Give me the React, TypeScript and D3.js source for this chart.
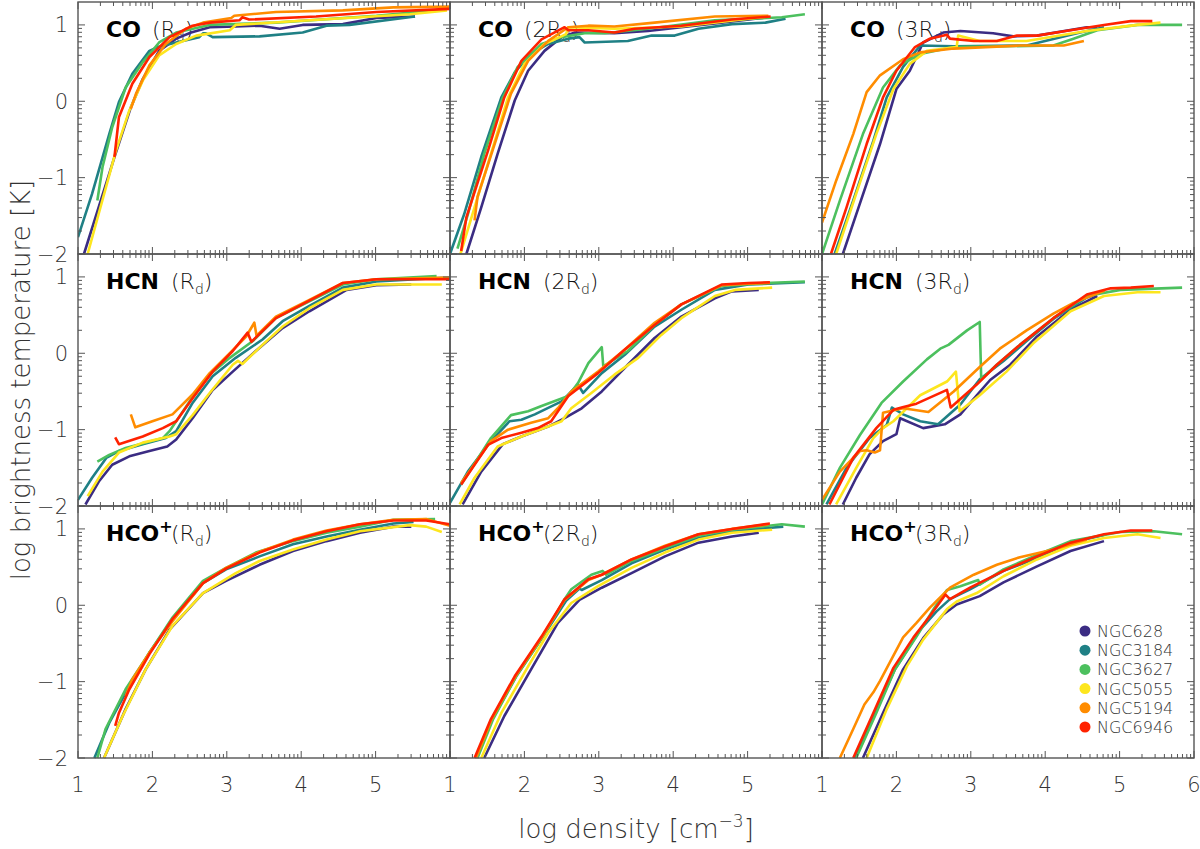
import * as d3 from "d3";

// ── Data (log density, log T_b) ─────────────────────────────

type Pt = [number, number];

const GALAXIES = ["NGC628", "NGC3184", "NGC3627", "NGC5055", "NGC5194", "NGC6946"];
const COLORS = ["#3b2c83", "#1f8085", "#4cc05e", "#fde61e", "#ff8c00", "#ff2200"];

const X_TICKS = [1, 2, 3, 4, 5, 6];
const Y_TICKS = [-2, -1, 0, 1];

// series order follows GALAXIES
const CO_1: Pt[][] = [
  [[1.08,-2.0],[1.49,-0.73],[1.71,-0.08],[1.87,0.29],[2.09,0.66],[2.32,0.82],[2.52,0.90],[2.77,0.97],[3.12,0.98],[3.44,0.99],[3.71,0.95],[4.02,1.0],[4.56,1.01],[5.01,1.09],[5.53,1.11]],
  [[1.0,-1.78],[1.19,-1.21],[1.42,-0.43],[1.55,-0.01],[1.73,0.36],[1.96,0.66],[2.07,0.71],[2.32,0.77],[2.63,0.84],[2.68,0.89],[2.72,0.89],[2.81,0.84],[3.44,0.85],[4.02,0.90],[4.34,0.99],[4.65,1.0],[5.53,1.11]],
  [[1.26,-1.30],[1.33,-0.86],[1.46,-0.34],[1.64,0.18],[1.87,0.51],[2.09,0.77],[2.32,0.90],[2.59,0.96],[2.77,1.0],[3.66,1.03],[5.01,1.12],[5.91,1.20]],
  [[1.13,-2.0],[1.51,-0.65],[1.69,-0.12],[1.87,0.27],[2.09,0.60],[2.32,0.75],[2.59,0.86],[3.04,0.93],[3.12,1.0],[4.11,1.06],[5.46,1.14],[5.96,1.19]],
  [[1.71,-0.10],[1.78,0.10],[1.96,0.47],[2.18,0.75],[2.45,0.95],[2.68,1.03],[3.06,1.09],[3.10,1.12],[3.66,1.17],[4.56,1.19],[5.24,1.23],[6.0,1.24]],
  [[1.49,-0.73],[1.55,-0.21],[1.73,0.23],[1.96,0.58],[2.23,0.84],[2.54,0.99],[2.77,1.03],[3.17,1.06],[3.21,1.10],[3.30,1.07],[4.20,1.11],[5.01,1.17],[6.0,1.21]],
];

const CO_2: Pt[][] = [
  [[1.22,-2.0],[1.42,-1.39],[1.64,-0.69],[1.87,0.01],[2.05,0.40],[2.27,0.66],[2.50,0.84],[2.68,0.90],[3.21,0.89],[3.66,0.92],[4.56,1.02],[5.28,1.10]],
  [[1.0,-2.0],[1.19,-1.48],[1.42,-0.73],[1.69,0.05],[1.87,0.38],[2.09,0.62],[2.32,0.75],[2.59,0.82],[2.74,0.84],[2.81,0.77],[3.39,0.79],[3.71,0.86],[4.02,0.86],[4.34,0.95],[4.79,1.01],[5.24,1.03],[5.51,1.08]],
  [[1.10,-1.93],[1.24,-1.48],[1.46,-0.69],[1.71,0.05],[1.91,0.45],[2.23,0.75],[2.50,0.84],[2.81,0.89],[3.08,0.89],[3.66,0.95],[4.56,1.06],[5.46,1.10],[5.77,1.14]],
  [[1.14,-2.0],[1.33,-1.39],[1.55,-0.69],[1.78,0.05],[2.0,0.49],[2.27,0.75],[2.56,0.88],[2.59,0.97],[3.21,0.95],[4.11,0.98],[5.01,1.08],[5.28,1.11]],
  [[1.33,-1.56],[1.37,-1.25],[1.60,-0.56],[1.82,0.10],[2.05,0.53],[2.32,0.79],[2.59,0.97],[2.86,0.99],[3.21,0.98],[3.75,1.03],[4.56,1.11],[5.28,1.12]],
  [[1.15,-1.96],[1.22,-1.52],[1.51,-0.65],[1.73,0.05],[1.96,0.53],[2.23,0.81],[2.54,0.97],[2.59,0.93],[2.86,0.93],[3.21,0.90],[3.48,0.95],[4.11,0.99],[4.79,1.07],[5.31,1.11]],
];

const CO_3: Pt[][] = [
  [[1.28,-2.0],[1.46,-1.48],[1.78,-0.56],[2.0,0.16],[2.18,0.40],[2.36,0.77],[2.63,0.90],[2.86,0.92],[3.30,0.89],[3.57,0.85],[3.89,0.86],[4.56,0.97],[4.70,0.97]],
  [[1.17,-2.0],[1.42,-1.30],[1.69,-0.52],[1.87,0.05],[2.09,0.45],[2.32,0.73],[2.77,0.72],[3.75,0.73],[4.47,0.90],[4.79,0.97]],
  [[1.0,-2.0],[1.24,-1.30],[1.55,-0.43],[1.82,0.18],[2.05,0.47],[2.32,0.62],[2.77,0.71],[4.11,0.73],[4.38,0.82],[4.70,0.93],[5.24,1.0],[5.84,1.0]],
  [[1.19,-2.0],[1.46,-1.21],[1.73,-0.43],[1.96,0.16],[2.18,0.49],[2.41,0.66],[2.81,0.71],[2.83,0.86],[3.12,0.79],[3.75,0.79],[4.56,0.92],[5.24,1.0],[5.55,1.03]],
  [[1.0,-1.59],[1.19,-1.04],[1.42,-0.43],[1.60,0.12],[1.78,0.34],[2.09,0.55],[2.32,0.64],[2.77,0.69],[3.66,0.73],[4.25,0.73],[4.52,0.79]],
  [[1.12,-2.0],[1.33,-1.39],[1.60,-0.56],[1.82,0.05],[2.0,0.40],[2.25,0.71],[2.45,0.82],[2.68,0.87],[2.72,0.82],[3.04,0.79],[3.35,0.79],[3.62,0.86],[3.89,0.86],[4.34,0.93],[4.79,1.0],[5.15,1.05],[5.44,1.05]],
];

const HCN_1: Pt[][] = [
  [[1.10,-1.98],[1.28,-1.68],[1.46,-1.46],[1.69,-1.35],[1.96,-1.28],[2.20,-1.22],[2.32,-1.13],[2.54,-0.85],[2.81,-0.48],[3.08,-0.24],[3.39,0.03],[3.75,0.33],[4.11,0.55],[4.61,0.83],[5.01,0.89],[5.48,0.90]],
  [[1.0,-1.92],[1.19,-1.63],[1.38,-1.37],[1.55,-1.28],[1.87,-1.19],[2.18,-1.11],[2.32,-1.02],[2.54,-0.65],[2.81,-0.30],[3.12,-0.06],[3.48,0.18],[3.75,0.42],[4.11,0.62],[4.56,0.86],[5.01,0.94],[5.91,0.99]],
  [[1.26,-1.42],[1.42,-1.33],[1.64,-1.24],[1.87,-1.18],[2.14,-1.11],[2.23,-1.02],[2.50,-0.63],[2.77,-0.28],[3.04,-0.06],[3.35,0.16],[3.66,0.46],[4.11,0.68],[4.56,0.90],[5.01,0.97],[5.82,1.01]],
  [[1.13,-1.87],[1.33,-1.55],[1.55,-1.30],[1.87,-1.17],[2.23,-1.09],[2.32,-1.06],[2.54,-0.81],[2.77,-0.52],[3.08,-0.15],[3.15,-0.10],[3.21,-0.14],[3.48,0.11],[3.75,0.35],[4.11,0.59],[4.56,0.83],[5.01,0.90],[5.89,0.90]],
  [[1.71,-0.80],[1.77,-0.97],[2.0,-0.89],[2.27,-0.80],[2.54,-0.54],[2.77,-0.26],[3.04,0.0],[3.26,0.22],[3.37,0.40],[3.40,0.23],[3.66,0.48],[4.11,0.70],[4.56,0.92],[5.01,0.97],[6.0,0.99]],
  [[1.50,-1.10],[1.55,-1.19],[1.87,-1.09],[2.14,-0.98],[2.32,-0.89],[2.54,-0.59],[2.81,-0.24],[3.08,0.03],[3.28,0.27],[3.33,0.15],[3.66,0.46],[4.11,0.69],[4.56,0.92],[5.01,0.97],[6.0,0.97]],
];

const HCN_2: Pt[][] = [
  [[1.17,-1.98],[1.42,-1.55],[1.71,-1.19],[1.96,-1.09],[2.32,-0.96],[2.54,-0.85],[2.77,-0.72],[3.04,-0.50],[3.39,-0.15],[3.75,0.20],[4.11,0.48],[4.56,0.72],[4.79,0.81],[5.15,0.83]],
  [[1.0,-1.96],[1.24,-1.55],[1.55,-1.15],[1.80,-0.89],[1.96,-0.87],[2.14,-0.80],[2.50,-0.63],[2.72,-0.41],[2.79,-0.52],[3.04,-0.26],[3.35,-0.02],[3.75,0.35],[4.11,0.57],[4.56,0.83],[5.01,0.90],[5.77,0.93]],
  [[1.15,-1.72],[1.55,-1.11],[1.82,-0.81],[2.05,-0.76],[2.23,-0.69],[2.59,-0.56],[2.72,-0.39],[2.86,-0.13],[3.04,0.08],[3.06,-0.17],[3.39,0.03],[3.75,0.37],[4.11,0.64],[4.65,0.88],[5.24,0.92],[5.77,0.94]],
  [[1.13,-1.98],[1.33,-1.63],[1.64,-1.22],[1.96,-1.09],[2.32,-0.96],[2.50,-0.89],[2.63,-0.72],[2.90,-0.52],[3.21,-0.28],[3.53,-0.06],[3.84,0.24],[4.11,0.46],[4.56,0.75],[4.83,0.83],[5.33,0.86]],
  [[1.15,-1.70],[1.55,-1.15],[1.78,-1.00],[2.09,-0.91],[2.32,-0.85],[2.45,-0.72],[2.63,-0.50],[2.99,-0.24],[3.35,0.05],[3.75,0.40],[4.11,0.64],[4.65,0.89],[5.01,0.91],[5.30,0.92]],
  [[1.15,-1.72],[1.51,-1.20],[1.69,-1.11],[1.96,-1.04],[2.18,-0.98],[2.36,-0.89],[2.59,-0.56],[2.99,-0.26],[3.35,0.05],[3.75,0.37],[4.11,0.64],[4.65,0.90],[5.01,0.92],[5.30,0.93]],
];

const HCN_3: Pt[][] = [
  [[1.28,-1.98],[1.46,-1.63],[1.64,-1.32],[1.82,-1.15],[2.0,-1.06],[2.05,-0.85],[2.36,-0.98],[2.65,-0.93],[2.86,-0.80],[3.08,-0.55],[3.26,-0.35],[3.53,-0.15],[3.89,0.22],[4.34,0.57],[4.70,0.75]],
  [[1.06,-1.98],[1.33,-1.50],[1.64,-1.11],[1.87,-0.94],[1.94,-0.71],[2.09,-0.80],[2.32,-0.89],[2.56,-0.93],[2.86,-0.67],[3.12,-0.34],[3.44,-0.10],[3.75,0.16],[4.11,0.45],[4.56,0.73],[4.79,0.81]],
  [[1.0,-1.98],[1.24,-1.50],[1.51,-1.07],[1.80,-0.65],[2.09,-0.37],[2.41,-0.08],[2.59,0.06],[2.70,0.11],[2.95,0.30],[3.12,0.41],[3.14,-0.34],[3.35,-0.15],[3.66,0.11],[4.11,0.46],[4.56,0.75],[5.01,0.83],[5.84,0.86]],
  [[1.19,-1.98],[1.46,-1.50],[1.69,-1.11],[1.82,-0.98],[1.96,-0.89],[2.14,-0.72],[2.32,-0.55],[2.68,-0.37],[2.80,-0.24],[2.85,-0.76],[3.12,-0.55],[3.48,-0.24],[3.84,0.13],[4.34,0.55],[4.79,0.75],[5.24,0.80],[5.55,0.80]],
  [[1.0,-1.92],[1.24,-1.55],[1.51,-1.28],[1.60,-1.27],[1.71,-1.30],[1.78,-1.27],[1.82,-0.78],[2.09,-0.72],[2.43,-0.77],[2.77,-0.50],[3.12,-0.18],[3.39,0.06],[3.75,0.30],[4.11,0.52],[4.38,0.66],[4.80,0.82]],
  [[1.10,-1.98],[1.42,-1.37],[1.73,-0.98],[1.96,-0.74],[2.07,-0.71],[2.27,-0.66],[2.68,-0.48],[2.73,-0.71],[3.08,-0.41],[3.35,-0.15],[3.66,0.11],[4.11,0.46],[4.56,0.77],[4.88,0.85],[5.15,0.86],[5.46,0.88]],
];

const HCOP_1: Pt[][] = [
  [[1.35,-2.0],[1.64,-1.36],[1.91,-0.84],[2.23,-0.32],[2.68,0.16],[2.99,0.32],[3.44,0.53],[3.89,0.71],[4.34,0.84],[4.79,0.95],[5.24,1.03],[5.48,1.03]],
  [[1.22,-2.0],[1.42,-1.54],[1.69,-1.06],[1.96,-0.62],[2.27,-0.19],[2.68,0.29],[2.99,0.47],[3.44,0.64],[3.89,0.80],[4.34,0.90],[4.79,0.99],[5.24,1.07],[5.51,1.09]],
  [[1.26,-2.0],[1.37,-1.62],[1.64,-1.10],[1.96,-0.62],[2.27,-0.16],[2.68,0.32],[2.99,0.49],[3.39,0.69],[3.89,0.84],[4.34,0.95],[4.79,1.03],[5.24,1.12],[5.80,1.13]],
  [[1.35,-2.0],[1.60,-1.45],[1.91,-0.84],[2.27,-0.27],[2.68,0.16],[3.12,0.42],[3.44,0.58],[3.89,0.73],[4.34,0.86],[4.79,0.97],[5.46,1.05],[5.68,1.03],[5.89,0.96]],
  [[1.64,-1.19],[1.73,-0.97],[1.96,-0.62],[2.27,-0.21],[2.68,0.29],[2.99,0.49],[3.44,0.70],[3.89,0.86],[4.34,0.98],[4.79,1.06],[5.24,1.12],[5.68,1.13],[6.0,1.04]],
  [[1.50,-1.58],[1.55,-1.41],[1.69,-1.10],[1.96,-0.64],[2.27,-0.18],[2.68,0.29],[2.99,0.48],[3.44,0.69],[3.89,0.85],[4.34,0.97],[4.79,1.06],[5.24,1.11],[5.68,1.11],[6.0,1.06]],
];

const HCOP_2: Pt[][] = [
  [[1.46,-2.0],[1.73,-1.45],[2.09,-0.84],[2.45,-0.23],[2.74,0.07],[3.04,0.23],[3.44,0.42],[3.89,0.64],[4.34,0.82],[4.79,0.90],[5.15,0.95]],
  [[1.35,-2.0],[1.57,-1.49],[1.89,-0.93],[2.25,-0.41],[2.56,0.06],[2.74,0.22],[2.77,0.20],[3.04,0.33],[3.44,0.55],[3.89,0.73],[4.34,0.88],[4.79,0.97],[5.48,1.03]],
  [[1.37,-2.0],[1.58,-1.49],[1.89,-0.93],[2.25,-0.41],[2.54,0.08],[2.63,0.21],[2.90,0.40],[3.05,0.45],[3.10,0.40],[3.44,0.58],[3.89,0.75],[4.34,0.91],[4.79,0.99],[5.46,1.06],[5.77,1.03]],
  [[1.42,-2.0],[1.69,-1.41],[2.05,-0.80],[2.32,-0.36],[2.63,0.03],[2.99,0.25],[3.44,0.49],[3.89,0.69],[4.34,0.86],[4.79,0.95],[5.33,0.99]],
  [[1.35,-2.0],[1.56,-1.49],[1.88,-0.93],[2.24,-0.41],[2.54,0.07],[2.86,0.33],[3.04,0.40],[3.44,0.60],[3.89,0.78],[4.34,0.93],[4.79,1.0],[5.28,1.06]],
  [[1.33,-2.0],[1.55,-1.49],[1.87,-0.93],[2.23,-0.41],[2.54,0.08],[2.86,0.34],[3.04,0.40],[3.44,0.60],[3.89,0.77],[4.34,0.93],[4.79,1.0],[5.30,1.07]],
];

const HCOP_3: Pt[][] = [
  [[1.55,-2.0],[1.82,-1.41],[2.09,-0.84],[2.36,-0.43],[2.63,-0.12],[2.81,0.01],[3.12,0.12],[3.44,0.30],[3.89,0.51],[4.34,0.71],[4.79,0.84]],
  [[1.44,-2.0],[1.71,-1.41],[1.98,-0.84],[2.32,-0.32],[2.54,-0.08],[2.72,0.08],[2.99,0.21],[3.44,0.45],[3.89,0.62],[4.34,0.82],[4.79,0.92]],
  [[1.46,-2.0],[1.73,-1.41],[1.98,-0.84],[2.27,-0.41],[2.50,-0.05],[2.68,0.20],[2.86,0.25],[3.10,0.33],[3.12,0.27],[3.44,0.47],[3.89,0.66],[4.34,0.84],[5.01,0.96],[5.46,0.97],[5.84,0.93]],
  [[1.60,-2.0],[1.87,-1.36],[2.14,-0.80],[2.36,-0.45],[2.68,-0.05],[2.81,0.05],[3.08,0.16],[3.44,0.38],[3.89,0.60],[4.34,0.78],[4.79,0.88],[5.24,0.93],[5.55,0.88]],
  [[1.24,-2.0],[1.42,-1.62],[1.57,-1.30],[1.69,-1.14],[1.78,-0.99],[1.91,-0.75],[2.09,-0.42],[2.27,-0.23],[2.45,-0.03],[2.72,0.23],[3.04,0.40],[3.35,0.53],[3.66,0.63],[4.11,0.73],[4.56,0.86]],
  [[1.42,-2.0],[1.69,-1.41],[1.96,-0.82],[2.23,-0.42],[2.45,-0.14],[2.66,0.14],[2.72,0.08],[2.99,0.23],[3.44,0.45],[3.89,0.64],[4.34,0.82],[4.79,0.93],[5.15,0.98],[5.44,0.98]],
];

const MOLECULES = ["CO", "HCN", "HCO"];
const RADII = ["", "2", "3"];
const PANEL_DATA = [
  [CO_1, CO_2, CO_3],
  [HCN_1, HCN_2, HCN_3],
  [HCOP_1, HCOP_2, HCOP_3],
];

// ── Layout ──────────────────────────────────────────────

const W = 1200;
const H = 849;
const LEFT = 78;
const TOP = 2;
const PW = 372;
const PH = 252;
const FONT = "'DejaVu Sans', 'Liberation Sans', sans-serif";
const AXIS = "#555";
const TEXT = "#333";

const x = d3.scaleLinear().domain([1, 6]).range([0, PW]);
const y = d3.scaleLinear().domain([-2, 1.3]).range([PH, 0]);

const line = d3
  .line<Pt>()
  .x((d) => x(d[0]))
  .y((d) => y(d[1]));

// IDL-style minor ticks: n + log10(k)
function minors(lo: number, hi: number, max: number) {
  const out: number[] = [];
  for (let n = lo; n < hi; n++) {
    for (let k = 2; k <= 9; k++) {
      const v = n + Math.log10(k);
      if (v < max) out.push(v);
    }
  }
  return out;
}
const X_MINOR = minors(1, 6, 6);
const Y_MINOR = minors(-2, 1, 1.3);

function PanelLabel({ row, col }: { row: number; col: number }) {
  const parenX = row === 0 ? 74 : 93;
  return (
    <g>
      <text x={28} y={35} fontFamily={FONT} fontSize={22} fontWeight="bold" fill="#000">
        {MOLECULES[row]}
        {row === 2 && (
          <tspan dy={-9} fontSize={16}>
            +
          </tspan>
        )}
      </text>
      <text x={parenX} y={35} fontFamily={FONT} fontSize={22} fontWeight={300} fill="#111">
        ({RADII[col]}R
        <tspan dy={5} fontSize={14}>
          d
        </tspan>
        <tspan dy={-5}>)</tspan>
      </text>
    </g>
  );
}

function Panel({ row, col }: { row: number; col: number }) {
  const series = PANEL_DATA[row][col];
  const id = `clip-${row}-${col}`;
  return (
    <g transform={`translate(${LEFT + col * PW},${TOP + row * PH})`}>
      <defs>
        <clipPath id={id}>
          <rect x={0} y={-2} width={PW} height={PH + 4} />
        </clipPath>
      </defs>
      <PanelLabel row={row} col={col} />
      <g clipPath={`url(#${id})`}>
        {series.map((pts, i) => (
          <path
            key={i}
            d={line(pts) || ""}
            fill="none"
            stroke={COLORS[i]}
            strokeWidth={2.6}
            strokeLinejoin="round"
          />
        ))}
      </g>
      {/* ticks on all four sides */}
      <g stroke={AXIS} strokeWidth={1}>
        {X_TICKS.map((t) => (
          <g key={`xm${t}`}>
            <line x1={x(t)} x2={x(t)} y1={PH} y2={PH - 7} />
            <line x1={x(t)} x2={x(t)} y1={0} y2={7} />
          </g>
        ))}
        {X_MINOR.map((t, i) => (
          <g key={`xn${i}`}>
            <line x1={x(t)} x2={x(t)} y1={PH} y2={PH - 4} />
            <line x1={x(t)} x2={x(t)} y1={0} y2={4} />
          </g>
        ))}
        {Y_TICKS.map((t) => (
          <g key={`ym${t}`}>
            <line x1={0} x2={7} y1={y(t)} y2={y(t)} />
            <line x1={PW} x2={PW - 7} y1={y(t)} y2={y(t)} />
          </g>
        ))}
        {Y_MINOR.map((t, i) => (
          <g key={`yn${i}`}>
            <line x1={0} x2={4} y1={y(t)} y2={y(t)} />
            <line x1={PW} x2={PW - 4} y1={y(t)} y2={y(t)} />
          </g>
        ))}
      </g>
      <rect x={0} y={0} width={PW} height={PH} fill="none" stroke={AXIS} strokeWidth={1.4} />
      {col === 0 &&
        Y_TICKS.map((t) => (
          <text
            key={`yl${t}`}
            x={-10}
            y={y(t) + 7.5}
            textAnchor="end"
            fontFamily={FONT}
            fontSize={21}
            fontWeight={300}
            fill={TEXT}
          >
            {t < 0 ? `\u2212${-t}` : t}
          </text>
        ))}
      {row === 2 &&
        X_TICKS.filter((t) => col === 2 || t < 6).map((t) => (
          <text
            key={`xl${t}`}
            x={x(t)}
            y={PH + 34}
            textAnchor="middle"
            fontFamily={FONT}
            fontSize={21}
            fontWeight={300}
            fill={TEXT}
          >
            {t}
          </text>
        ))}
      {row === 2 && col === 2 && <Legend />}
    </g>
  );
}

function Legend() {
  return (
    <g>
      {GALAXIES.map((g, i) => (
        <g key={g} transform={`translate(263,${125 + i * 19.2})`}>
          <circle r={5.5} fill={COLORS[i]} />
          <text x={12} y={6} fontFamily={FONT} fontSize={16} fontWeight={300} fill={TEXT}>
            {g}
          </text>
        </g>
      ))}
    </g>
  );
}

export default function App() {
  const rows = [0, 1, 2];
  const cols = [0, 1, 2];
  return (
    <svg
      width={W}
      height={H}
      style={{ position: "absolute", left: 0, top: 0, background: "#fff" }}
    >
      {rows.map((r) => cols.map((c) => <Panel key={`${r}-${c}`} row={r} col={c} />))}
      <text
        transform={`translate(30,${TOP + (3 * PH) / 2}) rotate(-90)`}
        textAnchor="middle"
        fontFamily={FONT}
        fontSize={26}
        fontWeight={300}
        fill={TEXT}
      >
        log brightness temperature [K]
      </text>
      <text
        x={LEFT + (3 * PW) / 2}
        y={838}
        textAnchor="middle"
        fontFamily={FONT}
        fontSize={26}
        fontWeight={300}
        fill={TEXT}
      >
        log density [cm
        <tspan dy={-11} fontSize={17}>
          {"\u22123"}
        </tspan>
        <tspan dy={11}>]</tspan>
      </text>
    </svg>
  );
}
